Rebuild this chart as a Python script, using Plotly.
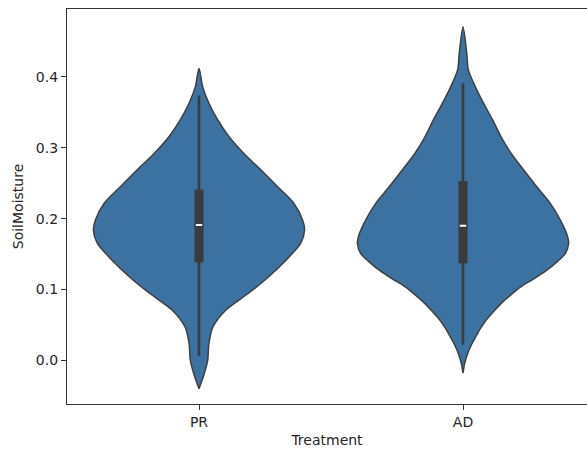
import plotly.graph_objects as go

# ---- data ----
categories = ["PR", "AD"]

# KDE profile: SoilMoisture level and relative density (1 = widest)
pr_levels = [0.412, 0.386, 0.363, 0.339, 0.316, 0.292, 0.269, 0.245, 0.222, 0.198,
             0.184, 0.165, 0.141, 0.118, 0.095, 0.071, 0.047, 0.024, 0.000, -0.023,
             -0.040]
pr_density = [0.0, 0.035, 0.094, 0.179, 0.283, 0.425, 0.585, 0.745, 0.896, 0.981,
              1.0, 0.962, 0.821, 0.660, 0.472, 0.255, 0.132, 0.094, 0.082, 0.041,
              0.0]

ad_levels = [0.471, 0.433, 0.410, 0.386, 0.363, 0.339, 0.316, 0.292, 0.269, 0.245,
             0.222, 0.198, 0.175, 0.165, 0.151, 0.139, 0.127, 0.115, 0.104, 0.092,
             0.080, 0.069, 0.057, 0.045, 0.033, 0.022, 0.010, -0.005, -0.018]
ad_density = [0.0, 0.036, 0.051, 0.117, 0.194, 0.282, 0.359, 0.456, 0.573, 0.699,
              0.825, 0.922, 0.990, 1.0, 0.97, 0.89, 0.79, 0.67, 0.55, 0.45,
              0.36, 0.29, 0.22, 0.165, 0.12, 0.08, 0.045, 0.015, 0.0]

whisker_low = [0.006, 0.022]
q1 = [0.138, 0.137]
median = [0.191, 0.190]
q3 = [0.241, 0.253]
whisker_high = [0.374, 0.391]

profiles = [(pr_levels, pr_density), (ad_levels, ad_density)]

FILL = "#3b72a1"
EDGE = "#3f3f3f"
BOX = "#3b3b3b"
HALF = 0.4  # half violin width in category units

fig = go.Figure()
for i, (lev, dens) in enumerate(profiles):
    xs = [i + d * HALF for d in dens] + [i - d * HALF for d in reversed(dens)]
    ys = list(lev) + list(reversed(lev))
    fig.add_trace(go.Scatter(
        x=xs, y=ys, mode="lines", fill="toself", fillcolor=FILL,
        line=dict(color=EDGE, width=1.5, shape="spline", smoothing=0.8),
        showlegend=False, hoverinfo="skip"))
    # whiskers
    fig.add_trace(go.Scatter(x=[i, i], y=[whisker_low[i], whisker_high[i]], mode="lines",
                             line=dict(color=BOX, width=2.6), showlegend=False, hoverinfo="skip"))
    # box
    fig.add_trace(go.Scatter(x=[i, i], y=[q1[i], q3[i]], mode="lines",
                             line=dict(color=BOX, width=9), showlegend=False, hoverinfo="skip"))
    # median
    fig.add_trace(go.Scatter(x=[i - 0.012, i + 0.012], y=[median[i], median[i]], mode="lines",
                             line=dict(color="white", width=2), showlegend=False, hoverinfo="skip"))

AX = "#333333"
TXT = "#262626"
fig.update_layout(
    width=587, height=452,
    margin=dict(l=67, r=0, t=9, b=48),
    paper_bgcolor="white", plot_bgcolor="white",
    font=dict(family="DejaVu Sans", size=14, color=TXT),
    xaxis=dict(range=[-0.5, 1.4697], tickmode="array", tickvals=[0, 1], ticktext=categories,
               showgrid=False, zeroline=False, showline=True, linecolor=AX, linewidth=1.2,
               mirror=True, ticks="outside", ticklen=5, tickcolor=AX,
               tickfont=dict(size=14),
               title=dict(text="Treatment", standoff=6, font=dict(size=14))),
    yaxis=dict(range=[-0.0617, 0.496], tickmode="array",
               tickvals=[0.0, 0.1, 0.2, 0.3, 0.4], ticktext=["0.0", "0.1", "0.2", "0.3", "0.4"],
               showgrid=False, zeroline=False, showline=True, linecolor=AX, linewidth=1.2,
               ticks="outside", ticklen=5, tickcolor=AX,
               tickfont=dict(size=14),
               title=dict(text="SoilMoisture", standoff=8, font=dict(size=14))),
)

fig.write_html("out.html")
